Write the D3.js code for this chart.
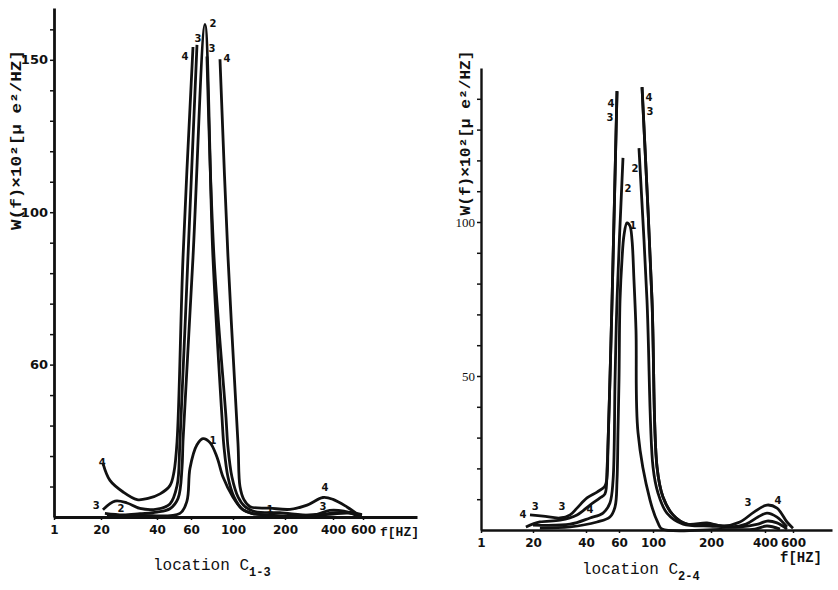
<!DOCTYPE html>
<html>
<head>
<meta charset="utf-8">
<script src="https://cdn.jsdelivr.net/npm/d3@7"></script>
<style>
  body { margin: 0; background: #fff; }
  svg { display: block; }
</style>
</head>
<body>
<div id="chart"></div>
<script>
// frequency ticks (same for both panels, axis is not a true log scale)
const freqTicks = [1, 20, 40, 60, 100, 200, 400, 600];
const freqTickLabels = ["1", "20", "40", "60", "100", "200", "400", "600"];

// y ticks, left panel prints "60" where 50 should be
const leftYTicks = [50, 100, 150];
const leftYLabels = ["60", "100", "150"];
const rightYTicks = [50, 100];
const rightYLabels = ["50", "100"];

// location C1-3 curves: [f Hz, W(f)], null = curve runs off the top
const leftCurve1 = [[22.1,0.5],[33.9,0.5],[53.5,1.2],[57.6,5.2],[59.4,16.0],[65.7,23.7],[71.4,25.7],[78.1,24.4],[84.8,19.6],[90.5,13.1],[100,6.5],[119,2.4],[136,1.2],[171,0.6],[224,0.2],[386,0.9],[500,1.3],[593,0.5]];
const leftCurve2 = [[21.4,1.2],[27.9,0.7],[33.9,1.1],[40,1.6],[47.6,2.7],[52.4,6.1],[54.7,16.0],[55.3,24.9],[61.9,85.2],[73.3,161.6],[80.9,85.3],[89.5,32.8],[91.4,23.0],[95.2,13.1],[101.9,6.6],[117,2.7],[136,1.2],[171,0.6],[224,0.2],[386,1.2],[500,1.6],[593,0.8]];
const leftCurve3 = [[20.7,2.4],[25,5.2],[29.3,4.6],[33.9,2.8],[40,2.6],[47.6,4.3],[51.8,10.3],[53.5,24.8],[58.2,85.1],[65.7,154.9],[70,null],[75.2,151.1],[81.9,85.4],[93.3,32.8],[95.2,22.9],[99,13.1],[109.6,6.6],[123,3.4],[142,1.8],[190,1.4],[326,0.7],[386,2.2],[473,1.9],[560,0.4]];
const leftCurve4 = [[20.7,17.6],[23.2,12.0],[27.9,8.2],[32.9,5.7],[36.8,6.1],[41.8,7.6],[47.6,10.3],[50,14.8],[51.8,24.8],[55.3,85.1],[61.9,154.2],[75,null],[87.6,150.2],[95.2,85.5],[109.6,24.1],[113.5,9.9],[121,5.7],[133,3.4],[171,2.9],[221,2.5],[292,3.9],[358,6.4],[400,5.8],[493,3.3],[567,0.8]];

// location C2-4 curves
const rightCurve1 = [[22.6,0.6],[34,1.0],[46.7,2.6],[54.5,4.2],[57.6,7.5],[58.8,16.2],[59.4,32.5],[60,48.7],[61.2,74.7],[63.5,87.7],[65.9,95.8],[69.4,99.7],[72.9,98.7],[75.3,94.2],[77.6,81.2],[80,64.9],[82.4,31.5],[96.5,9.7],[108.6,2.3],[115.5,0.3],[233,0.2],[363,0.3],[414,1.3],[507,0.3]];
const rightCurve2 = [[20,1.6],[34,1.9],[42.4,3.9],[50.3,5.5],[54.5,8.8],[56.4,16.2],[57.6,48.7],[58.8,74.7],[64.7,120.8],[75,null],[83.5,124.0],[92.9,74.7],[100,20.5],[108.6,12.0],[124,5.5],[152,1.9],[198,1.3],[311,1.0],[374,1.9],[414,2.9],[486,2.3],[557,0.3]];
const rightCurve3 = [[18.9,4.9],[23.8,4.5],[30.2,3.9],[34,4.9],[36.6,7.1],[40.6,10.4],[46.7,12.3],[51.5,14.3],[52.7,16.9],[53.3,26.9],[54.5,48.7],[55.8,74.7],[58.8,142.5],[70,null],[87.1,143.8],[98.8,74.7],[106.9,20.5],[117.2,10.7],[134.5,4.9],[158.6,1.9],[198,1.9],[274,1.0],[330,1.9],[374,4.2],[414,5.5],[486,4.2],[557,1.0]];
const rightCurve4 = [[17.4,1.0],[22.6,2.6],[30.2,3.2],[36.6,4.9],[42.4,8.1],[48.5,10.4],[51.5,11.7],[52.7,19.5],[53.3,26.9],[54.5,48.7],[55.8,74.7],[58.8,142.5],[70,null],[87.1,143.8],[98.8,74.7],[106.9,20.5],[117.2,10.7],[134.5,4.9],[158.6,1.9],[193,2.3],[244,1.3],[307,2.6],[359,5.8],[414,8.1],[486,7.1],[557,2.6],[600,0.6]];

// curve number labels: [f, W, text]
const leftLabels = [[56.5,151.2,"4"],[66.7,156.9,"3"],[81,162,"2"],[80,153.7,"3"],[94.3,150.3,"4"],[81,25.1,"1"],[20.4,17.9,"4"],[18.1,3.7,"3"],[27.1,2.9,"2"],[367,9.7,"4"],[358,3.4,"3"],[171,2.3,"1"]];
const rightLabels = [[55.2,138.6,"4"],[54.5,134,"3"],[70.6,111,"2"],[76.5,99,"1"],[78.8,117.5,"2"],[95.3,140.3,"4"],[96.5,136,"3"],[16.3,4.9,"4"],[20.8,7.5,"3"],[30.9,7.5,"3"],[42.4,6.8,"4"],[337,8.8,"3"],[493,9.7,"4"]];

const width = 838, height = 590;

const svg = d3.select("#chart").append("svg")
    .attr("width", width)
    .attr("height", height)
    .style("background", "#fff");

// draws one panel; scales are piecewise linear so the printed tick spacing is kept
function drawPanel(opts) {
    const x = d3.scaleLinear()
        .domain(freqTicks.concat([1000]))
        .range(opts.xStops);
    const y = d3.scaleLinear()
        .domain([0, opts.yMax])
        .range([opts.y0, opts.yTop]);

    const g = svg.append("g");

    // x axis
    const xAxis = g.append("g")
        .attr("transform", `translate(0,${opts.y0})`)
        .call(d3.axisBottom(x)
            .tickValues(freqTicks)
            .tickFormat((d, i) => freqTickLabels[i])
            .tickSize(3)
            .tickSizeOuter(0)
            .tickPadding(5));

    // y axis with a minor tick every 10
    const yAxis = g.append("g")
        .attr("transform", `translate(${opts.xStops[0]},0)`)
        .call(d3.axisLeft(y)
            .tickValues(d3.range(10, opts.yMax, 10))
            .tickFormat(d => {
                const i = opts.yTicks.indexOf(d);
                return i >= 0 ? opts.yLabels[i] : "";
            })
            .tickSize(4)
            .tickSizeOuter(0)
            .tickPadding(2));

    [xAxis, yAxis].forEach(a => {
        a.select(".domain").attr("stroke", "#111").attr("stroke-width", opts.axisWidth);
        a.selectAll(".tick line").attr("stroke", "#111").attr("stroke-width", 1.5);
    });
    xAxis.selectAll("text")
        .attr("fill", "#111")
        .style("font-family", "DejaVu Sans")
        .style("font-weight", "bold")
        .style("font-size", "12px");
    yAxis.selectAll("text")
        .attr("fill", "#111")
        .style("font-family", opts.yFont)
        .style("font-weight", opts.yWeight)
        .style("font-size", "13px");

    // curves, broken where they leave the top of the plot
    const line = d3.line()
        .defined(d => d[1] !== null)
        .x(d => x(d[0]))
        .y(d => y(d[1]))
        .curve(d3.curveCatmullRom.alpha(0.5));

    g.selectAll(".curve")
        .data(opts.curves)
        .enter().append("path")
        .attr("class", "curve")
        .attr("d", line)
        .attr("fill", "none")
        .attr("stroke", "#111")
        .attr("stroke-width", 2.8)
        .attr("stroke-linejoin", "round");

    // curve numbers
    g.selectAll(".lbl")
        .data(opts.labels)
        .enter().append("text")
        .attr("class", "lbl")
        .attr("x", d => x(d[0]))
        .attr("y", d => y(d[1]))
        .attr("text-anchor", "middle")
        .attr("dominant-baseline", "central")
        .style("font-family", "DejaVu Sans")
        .style("font-weight", "bold")
        .style("font-size", "10px")
        .attr("fill", "#111")
        .text(d => d[2]);

    // vertical axis title
    g.append("text")
        .attr("transform", `translate(${opts.yTitle[0]},${opts.yTitle[1]}) rotate(-90)`)
        .attr("text-anchor", "middle")
        .attr("dominant-baseline", "central")
        .attr("textLength", opts.yTitle[2])
        .attr("lengthAdjust", "spacingAndGlyphs")
        .style("font-family", "Liberation Mono")
        .style("font-weight", "bold")
        .style("font-size", "15px")
        .attr("fill", "#111")
        .text("W(f)×10²[μ e²/HZ]");

    // location caption with subscript
    const cap = g.append("text")
        .attr("x", opts.caption[0])
        .attr("y", opts.caption[1])
        .style("font-family", "Liberation Mono")
        .style("font-size", "16px")
        .attr("fill", "#111");
    cap.append("tspan").text("location C");
    cap.append("tspan")
        .attr("dy", 6)
        .style("font-size", "12px")
        .style("font-weight", "bold")
        .text(opts.caption[2]);

    // f[HZ] unit
    g.append("text")
        .attr("x", opts.unit[0])
        .attr("y", opts.unit[1])
        .style("font-family", "Liberation Mono")
        .style("font-weight", "bold")
        .style("font-size", opts.unit[2] + "px")
        .attr("fill", "#111")
        .text("f[HZ]");
}

drawPanel({
    xStops: [54, 101, 157, 191, 233, 285, 333, 363, 417],
    y0: 517, yTop: 8, yMax: 167,
    yTicks: leftYTicks, yLabels: leftYLabels,
    yFont: "DejaVu Sans", yWeight: "bold", axisWidth: 2.8,
    curves: [leftCurve1, leftCurve2, leftCurve3, leftCurve4],
    labels: leftLabels,
    yTitle: [17, 140, 180],
    caption: [153, 570, "1-3"],
    unit: [380, 536, 13]
});

drawPanel({
    xStops: [481, 533, 586, 619, 653, 711, 765, 793, 832],
    y0: 530, yTop: 68, yMax: 150,
    yTicks: rightYTicks, yLabels: rightYLabels,
    yFont: "Liberation Serif", yWeight: "normal", axisWidth: 2.4,
    curves: [rightCurve1, rightCurve2, rightCurve3, rightCurve4],
    labels: rightLabels,
    yTitle: [466, 133, 165],
    caption: [582, 574, "2-4"],
    unit: [780, 562, 14]
});
</script>
</body>
</html>
